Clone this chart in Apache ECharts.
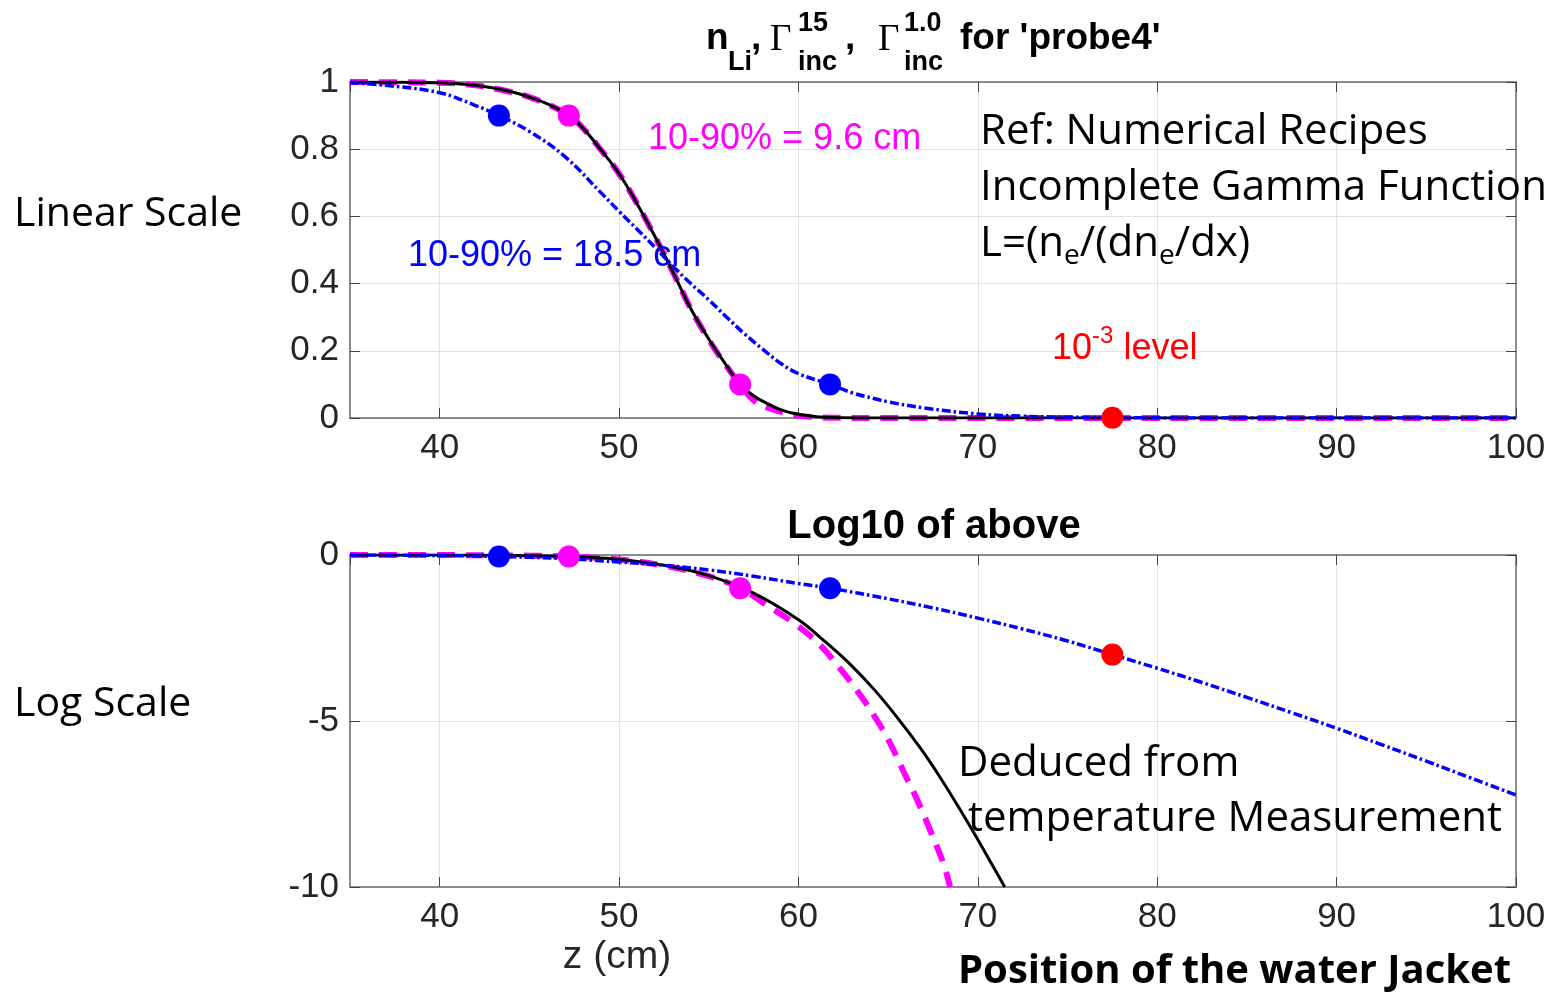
<!DOCTYPE html>
<html>
<head>
<meta charset="utf-8">
<script src="https://cdn.jsdelivr.net/npm/echarts@6/dist/echarts.min.js"></script>
<style>
html,body{margin:0;padding:0;background:#fff;}
#chart{width:1549px;height:993px;}
</style>
</head>
<body>
<div id="chart"></div>
<script>
// ---------- data ----------
// Top panel: linear values
const zBlackLin = [35, 38, 40, 42, 44, 45, 46, 47.2, 48, 49, 50, 51, 52, 53, 54, 55, 56, 56.75, 57.5, 58, 59, 60, 61, 62, 64, 66, 100];
const blackLin  = [1.000, 0.999, 0.998, 0.99, 0.971, 0.955, 0.935, 0.900, 0.862, 0.797, 0.727, 0.638, 0.54, 0.435, 0.325, 0.235, 0.155, 0.10, 0.066, 0.05, 0.025, 0.011, 0.004, 0.0012, 0.0001, 0, 0];

const zMagLin = [35, 38, 40, 42, 44, 45, 46, 47.2, 48, 49, 50, 51, 52, 53, 54, 55, 56, 56.75, 57.5, 58.2, 59.9, 61.2, 62.3, 64, 100];
const magLin  = [1.000, 0.999, 0.998, 0.99, 0.97, 0.955, 0.934, 0.900, 0.862, 0.797, 0.727, 0.638, 0.54, 0.435, 0.325, 0.233, 0.153, 0.10, 0.053, 0.032, 0.0078, 0.002, 0.0004, 0, 0];

const zBlueLin = [35, 37, 40, 42, 43.3, 45, 47, 49, 50, 51, 52, 53, 54, 55, 56, 57, 58, 59, 60, 61.76, 63, 64.2, 65, 67, 70, 72.5, 75, 77.5, 80, 85, 90, 100];
const blueLin  = [0.998, 0.99, 0.968, 0.93, 0.90, 0.853, 0.777, 0.67, 0.615, 0.562, 0.508, 0.452, 0.40, 0.352, 0.30, 0.25, 0.205, 0.163, 0.132, 0.10, 0.075, 0.058, 0.048, 0.03, 0.012, 0.0055, 0.0025, 0.001, 0.0004, 0.00006, 0.000007, 0.00000006];

// Bottom panel: log10 values
const zBlackLog = [35, 40, 45, 47.2, 50, 52.5, 55, 57.5, 60, 61.4, 62.9, 64.2, 65.5, 66.8, 67.9, 69, 70.1, 71.5];
const blackLog  = [0, -0.002, -0.02, -0.046, -0.135, -0.31, -0.62, -1.15, -1.95, -2.57, -3.30, -4.04, -4.89, -5.82, -6.70, -7.66, -8.67, -10];

const zMagLog = [35, 40, 45, 47.2, 50, 52.5, 55, 56.75, 58.2, 59.9, 61.2, 62.3, 63.3, 64.3, 65.1, 65.9, 66.7, 67.4, 68.1, 68.45];
const magLog  = [0, -0.002, -0.02, -0.046, -0.138, -0.32, -0.64, -1.0, -1.5, -2.11, -2.71, -3.41, -4.11, -4.91, -5.66, -6.57, -7.47, -8.37, -9.32, -10];

const zBlueLog = [35, 40, 43.3, 45, 47.5, 50, 52.5, 55, 57.5, 60, 61.76, 65, 67.5, 70, 72.5, 75, 77.5, 80, 82.5, 85, 87.5, 90, 92.5, 95, 97.5, 100];
const blueLog  = [-0.001, -0.014, -0.046, -0.069, -0.125, -0.21, -0.31, -0.45, -0.64, -0.86, -1.0, -1.32, -1.595, -1.90, -2.23, -2.59, -3.0, -3.41, -3.84, -4.29, -4.75, -5.22, -5.71, -6.21, -6.72, -7.23];

// 10%/90% markers and the 10^-3 level marker
const blueDotZ = [43.3, 61.76];
const blueDotLin = [0.9, 0.1];
const blueDotLog = [-0.046, -1];
const magDotZ = [47.2, 56.75];
const magDotLin = [0.9, 0.1];
const magDotLog = [-0.046, -1];
const redDotZ = [77.5];
const redDotLin = [0.001];
const redDotLog = [-3];

// Tick labels
const xTickLabels = [40, 50, 60, 70, 80, 90, 100];
const yTopTicks = [0, 0.2, 0.4, 0.6, 0.8, 1];
const yBotTicks = [-10, -5, 0];

// ---------- chart ----------
const pairs = (xs, ys) => xs.map((x, i) => [x, ys[i]]);
const chart = echarts.init(document.getElementById('chart'));

const AXC = '#6b6b6b';
const LBL = '#262626';
const GRID = '#e2e2e2';
const TICKFONT = 'Liberation Sans';
const CAL = 'Open Sans';

function xAxisMain(gi) {
  return {
    gridIndex: gi, type: 'value', min: 35, max: 100, position: 'bottom',
    axisLine: { show: true, onZero: false, lineStyle: { color: AXC, width: 1.5 } },
    axisTick: { show: true, inside: true, length: 10, lineStyle: { color: '#444', width: 1 } },
    axisLabel: {
      show: true, showMinLabel: false, fontSize: 35, color: LBL, fontFamily: TICKFONT, margin: 13,
      formatter: v => (xTickLabels.indexOf(Math.round(v)) >= 0 && Math.abs(v - Math.round(v)) < 1e-6) ? String(Math.round(v)) : ''
    },
    splitLine: { show: true, lineStyle: { color: GRID, width: 1 } }
  };
}
function xAxisMirror(gi) {
  return {
    gridIndex: gi, type: 'value', min: 35, max: 100, position: 'top',
    axisLine: { show: true, onZero: false, lineStyle: { color: AXC, width: 1.5 } },
    axisTick: { show: true, inside: true, length: 10, lineStyle: { color: '#444', width: 1 } },
    axisLabel: { show: false }, splitLine: { show: false }
  };
}
function yAxisMain(gi, mn, mx, iv, ticks) {
  return {
    gridIndex: gi, type: 'value', min: mn, max: mx, interval: iv, position: 'left',
    axisLine: { show: true, onZero: false, lineStyle: { color: AXC, width: 1.5 } },
    axisTick: { show: true, inside: true, length: 10, lineStyle: { color: '#444', width: 1 } },
    axisLabel: {
      show: true, fontSize: 35, color: LBL, fontFamily: TICKFONT, margin: 11,
      formatter: v => { const t = ticks.find(k => Math.abs(k - v) < 1e-9); return t === undefined ? '' : String(t); }
    },
    splitLine: { show: true, lineStyle: { color: GRID, width: 1 } }
  };
}
function yAxisMirror(gi, mn, mx, iv) {
  return {
    gridIndex: gi, type: 'value', min: mn, max: mx, interval: iv, position: 'right',
    axisLine: { show: true, onZero: false, lineStyle: { color: AXC, width: 1.5 } },
    axisTick: { show: true, inside: true, length: 10, lineStyle: { color: '#444', width: 1 } },
    axisLabel: { show: false }, splitLine: { show: false }
  };
}

function lineS(xi, yi, data, color, width, type, z) {
  return {
    type: 'line', xAxisIndex: xi, yAxisIndex: yi, data: data, symbol: 'none',
    smooth: 0.4, clip: true, silent: true, z: z,
    lineStyle: { color: color, width: width, type: type, cap: 'butt', opacity: 1 }
  };
}
function dotS(xi, yi, data, color) {
  return {
    type: 'scatter', xAxisIndex: xi, yAxisIndex: yi, data: data, symbol: 'circle',
    symbolSize: 22, itemStyle: { color: color, opacity: 1 }, silent: true, z: 10, clip: false
  };
}

const MAG = '#ff00ff', BLUE = '#0000ff', RED = '#ff0000';
const magDash = [18, 11];
const blueDash = [9, 3, 2.5, 3];

function txt(x, y, text, size, family, color, weight, align) {
  return {
    type: 'text', x: x, y: y, silent: true, z: 100,
    style: {
      text: text, fontSize: size, fontFamily: family, fontWeight: weight || 'normal',
      fill: color, align: align || 'left', textAlign: align || 'left',
      verticalAlign: 'middle', textVerticalAlign: 'middle'
    }
  };
}

const graphics = [
  // title pieces
  txt(706, 39, 'n', 37, TICKFONT, '#000', 'bold'),
  txt(728, 63, 'Li', 27, TICKFONT, '#000', 'bold'),
  txt(751, 39, ',', 37, TICKFONT, '#000', 'bold'),
  txt(770, 40, 'Γ', 37, 'Liberation Serif', '#000', 'normal'),
  txt(798, 24, '15', 27, TICKFONT, '#000', 'bold'),
  txt(798, 63, 'inc', 27, TICKFONT, '#000', 'bold'),
  txt(845, 39, ',', 37, TICKFONT, '#000', 'bold'),
  txt(878, 40, 'Γ', 37, 'Liberation Serif', '#000', 'normal'),
  txt(904, 24, '1.0', 27, TICKFONT, '#000', 'bold'),
  txt(904, 63, 'inc', 27, TICKFONT, '#000', 'bold'),
  txt(960, 39, "for 'probe4'", 37, TICKFONT, '#000', 'bold'),
  // second title
  txt(934, 527, 'Log10 of above', 40, TICKFONT, '#000', 'bold', 'center'),
  // side labels
  txt(14, 214, 'Linear Scale', 41, CAL, '#000'),
  txt(14, 704, 'Log Scale', 41, CAL, '#000'),
  // annotations
  txt(648, 139, '10-90% = 9.6 cm', 36, TICKFONT, MAG),
  txt(408, 256, '10-90% = 18.5 cm', 36, TICKFONT, BLUE),
  txt(980, 132, 'Ref: Numerical Recipes', 42, CAL, '#000'),
  txt(980, 188, 'Incomplete Gamma Function', 42, CAL, '#000'),
  {
    type: 'text', x: 980, y: 244, silent: true, z: 100,
    style: {
      text: '{a|L=(n}{s|e}{a|/(dn}{s|e}{a|/dx)}',
      align: 'left', verticalAlign: 'middle', textAlign: 'left', textVerticalAlign: 'middle',
      rich: {
        a: { fontSize: 42, fontFamily: CAL, fill: '#000', color: '#000', lineHeight: 52 },
        s: { fontSize: 28, fontFamily: CAL, fill: '#000', color: '#000', verticalAlign: 'bottom' }
      }
    }
  },
  {
    type: 'text', x: 1052, y: 349, silent: true, z: 100,
    style: {
      text: '{a|10}{s|-3}{a| level}',
      align: 'left', verticalAlign: 'middle', textAlign: 'left', textVerticalAlign: 'middle',
      rich: {
        a: { fontSize: 36, fontFamily: TICKFONT, fill: RED, color: RED, lineHeight: 50 },
        s: { fontSize: 24, fontFamily: TICKFONT, fill: RED, color: RED, verticalAlign: 'top' }
      }
    }
  },
  txt(958, 764, 'Deduced from', 42, CAL, '#000'),
  txt(968, 819, 'temperature Measurement', 42, CAL, '#000'),
  txt(617, 957, 'z (cm)', 39, TICKFONT, LBL, 'normal', 'center'),
  txt(958, 972, 'Position of the water Jacket', 40, CAL, '#000', 'bold')
];

const option = {
  animation: false,
  backgroundColor: '#ffffff',
  grid: [
    { left: 350, top: 82, width: 1166, height: 336, containLabel: false },
    { left: 350, top: 555, width: 1166, height: 332, containLabel: false }
  ],
  xAxis: [xAxisMain(0), xAxisMirror(0), xAxisMain(1), xAxisMirror(1)],
  yAxis: [
    yAxisMain(0, 0, 1, 0.2, yTopTicks), yAxisMirror(0, 0, 1, 0.2),
    yAxisMain(1, -10, 0, 5, yBotTicks), yAxisMirror(1, -10, 0, 5)
  ],
  series: [
    lineS(0, 0, pairs(zMagLin, magLin), MAG, 6, magDash, 2),
    lineS(0, 0, pairs(zBlackLin, blackLin), '#000', 3, 'solid', 3),
    lineS(0, 0, pairs(zBlueLin, blueLin), BLUE, 3.5, blueDash, 4),
    dotS(0, 0, pairs(blueDotZ, blueDotLin), BLUE),
    dotS(0, 0, pairs(magDotZ, magDotLin), MAG),
    dotS(0, 0, pairs(redDotZ, redDotLin), RED),

    lineS(2, 2, pairs(zMagLog, magLog), MAG, 6, magDash, 2),
    lineS(2, 2, pairs(zBlackLog, blackLog), '#000', 3, 'solid', 3),
    lineS(2, 2, pairs(zBlueLog, blueLog), BLUE, 3.5, blueDash, 4),
    dotS(2, 2, pairs(blueDotZ, blueDotLog), BLUE),
    dotS(2, 2, pairs(magDotZ, magDotLog), MAG),
    dotS(2, 2, pairs(redDotZ, redDotLog), RED)
  ],
  graphic: graphics
};
chart.setOption(option);
</script>
</body>
</html>
